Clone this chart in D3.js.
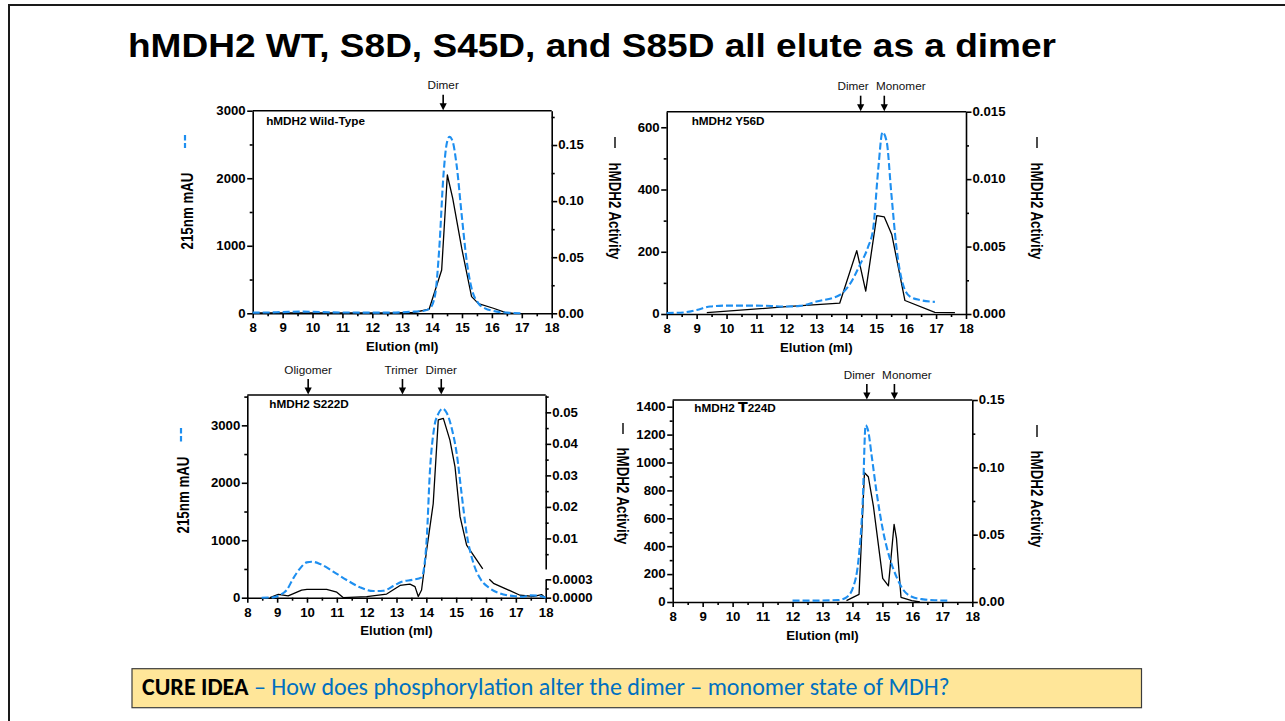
<!DOCTYPE html>
<html>
<head>
<meta charset="utf-8">
<script src="https://cdn.jsdelivr.net/npm/d3@7"></script>
<style>
	body { margin: 0; background: #fff; }
	svg { display: block; }
</style>
</head>
<body>
<script>
var slideTitle = "hMDH2 WT, S8D, S45D, and S85D all elute as a dimer";
var cureLead = "CURE IDEA";
var cureText = " \u2013 How does phosphorylation alter the dimer \u2013 monomer state of MDH?";

var elutionTicks = [8, 9, 10, 11, 12, 13, 14, 15, 16, 17, 18];
var elutionMinor = [8.5, 9.5, 10.5, 11.5, 12.5, 13.5, 14.5, 15.5, 16.5, 17.5];

// 215nm trace (mAU) and MDH activity, as [elution ml, value]
var wtUv = [[8.0, 10], [8.5, 12], [9.0, 18], [9.6, 25], [10.0, 22], [10.5, 15], [11.0, 12], [12.0, 10],
	[12.7, 10], [13.0, 15], [13.4, 25], [13.7, 35], [13.93, 74], [14.1, 271], [14.24, 962], [14.38, 2047],
	[14.49, 2516], [14.58, 2615], [14.69, 2541], [14.82, 2195], [14.99, 1455], [15.16, 765], [15.32, 370],
	[15.55, 148], [15.77, 74], [16.05, 35], [16.5, 10], [17.05, 0]];
var wtActivity = [[8.0, 0.0003], [12.7, 0.0003], [13.4, 0.0009], [13.9, 0.0036], [14.32, 0.0386],
	[14.51, 0.1233], [14.69, 0.1025], [14.99, 0.058], [15.32, 0.0149], [15.55, 0.0086], [16.05, 0.0045],
	[16.44, 0.0009], [16.72, 0]];

var y56dUv = [[8.0, 3], [8.56, 5], [9.0, 13], [9.45, 24], [10.0, 27], [11.0, 27], [12.0, 24], [12.45, 26],
	[13.0, 40], [13.78, 61], [14.1, 93], [14.45, 157], [14.73, 216], [14.9, 275], [15.07, 468], [15.21, 584],
	[15.35, 554], [15.5, 393], [15.68, 211], [15.9, 93], [16.13, 56], [16.46, 45], [16.96, 39]];
var y56dActivity = [[9.34, 0.0001], [12.0, 0.00054], [13.78, 0.0008], [14.35, 0.0047], [14.65, 0.0017],
	[15.02, 0.0073], [15.27, 0.0072], [15.52, 0.0059], [15.96, 0.001], [16.96, 0.00012], [17.63, 0.0001]];

var s222dUv = [[8.48, 0], [8.87, 6], [9.09, 46], [9.32, 133], [9.54, 337], [9.77, 511], [9.99, 615],
	[10.16, 627], [10.44, 586], [10.88, 453], [11.33, 308], [11.78, 180], [12.22, 116], [12.56, 122],
	[12.89, 203], [13.17, 279], [13.56, 313], [13.84, 354], [14.01, 1000], [14.12, 2200], [14.26, 2950],
	[14.4, 3200], [14.55, 3290], [14.68, 3220], [14.85, 2950], [15.02, 2500], [15.18, 1817], [15.35, 1120],
	[15.58, 598], [15.8, 337], [16.13, 163], [16.47, 75], [16.92, 29], [17.25, 17], [17.47, 41],
	[17.81, 29], [18.0, 0]];
var s222dActivity = [[8.76, 0], [9.04, 0.000055], [9.37, 0.00003], [9.82, 0.000125], [10.0, 0.000136],
	[10.66, 0.000136], [11.0, 0.00009], [11.22, 0], [12.0, 0.000016], [12.67, 0.00006], [13.12, 0.0002],
	[13.45, 0.00022], [13.62, 0.00018], [13.73, 0.00002], [13.84, 0.000125], [14.01, 0.0063],
	[14.23, 0.021], [14.4, 0.0476], [14.57, 0.0481], [14.79, 0.0412], [14.96, 0.0328], [15.13, 0.0169],
	[15.35, 0.0079], [15.89, 0.00031], [16.0, null], [16.11, 0.0003], [16.25, 0.000235], [17.14, 0.00004],
	[17.59, 0.00002], [17.87, 0.00005], [17.98, 0]];

var t224dUv = [[12.0, 10], [12.8, 10], [13.53, 14], [13.8, 33], [14.03, 110], [14.2, 300], [14.34, 707],
	[14.44, 1268], [14.53, 1221], [14.64, 1050], [14.81, 780], [15.03, 500], [15.25, 310], [15.47, 180],
	[15.7, 86], [15.98, 38], [16.36, 19], [16.81, 12], [17.2, 10]];
var t224dActivity = [[13.8, 0.001], [14.22, 0.0057], [14.4, 0.096], [14.53, 0.093], [14.7, 0.071],
	[15.01, 0.0176], [15.2, 0.012], [15.39, 0.0577], [15.47, 0.047], [15.62, 0.0035], [15.98, 0.001],
	[16.25, 0]];

// size standards marked above each plot (ml)
var wtMarkers = [["Dimer", 14.37]];
var y56dMarkers = [["Dimer", 14.48], ["Monomer", 15.27]];
var s222dMarkers = [["Oligomer", 10.04], ["Trimer", 13.2], ["Dimer", 14.5]];
var t224dMarkers = [["Dimer", 14.48], ["Monomer", 15.4]];

var wtUvTicks = [0, 1000, 2000, 3000], wtUvMinor = [500, 1500, 2500];
var wtActTicks = [0, 0.05, 0.10, 0.15], wtActMinor = [0.025, 0.075, 0.125, 0.175];
var y56dUvTicks = [0, 200, 400, 600], y56dUvMinor = [100, 300, 500];
var y56dActTicks = [0, 0.005, 0.010, 0.015], y56dActMinor = [0.0025, 0.0075, 0.0125];
var s222dUvTicks = [0, 1000, 2000, 3000], s222dUvMinor = [500, 1500, 2500, 3500];
var s222dActTicks = [0.01, 0.02, 0.03, 0.04, 0.05], s222dActMinor = [0.005, 0.015, 0.025, 0.035, 0.045, 0.055];
var s222dActLowTicks = [0, 0.0003], s222dActLowMinor = [0.00015];
var t224dUvTicks = [0, 200, 400, 600, 800, 1000, 1200, 1400], t224dUvMinor = [100, 300, 500, 700, 900, 1100, 1300];
var t224dActTicks = [0, 0.05, 0.10, 0.15], t224dActMinor = [0.025, 0.075, 0.125];

var FONT = "'Liberation Sans', Arial, Helvetica, sans-serif";
var BLUE = "#1e8ff0";

var panels = [
	{ name: "hMDH2 Wild-Type", left: 252.7, right: 551.7, top: 110.7, bottom: 313.3, labelDx: 13.5, labelDy: 14.5,
		uv: wtUv, act: wtActivity, uvDomain: [0, 3000], uvTicks: wtUvTicks, uvMinor: wtUvMinor,
		segments: [{ domain: [0, 0.1806], range: [313.3, 110.7], ticks: wtActTicks, minor: wtActMinor, format: ".2f" }],
		markers: wtMarkers, markerDx: [0] },
	{ name: "hMDH2 Y56D", left: 666.7, right: 966, top: 111.7, bottom: 314, labelDx: 25, labelDy: 13,
		uv: y56dUv, act: y56dActivity, uvDomain: [0, 650], uvTicks: y56dUvTicks, uvMinor: y56dUvMinor,
		segments: [{ domain: [0, 0.015], range: [314, 111.7], ticks: y56dActTicks, minor: y56dActMinor, format: ".3f" }],
		markers: y56dMarkers, markerDx: [-7.5, 16.5] },
	{ name: "hMDH2 S222D", left: 247.3, right: 545.7, top: 395, bottom: 597.7, labelDx: 22, labelDy: 12.6,
		uv: s222dUv, act: s222dActivity, uvDomain: [0, 3528], uvTicks: s222dUvTicks, uvMinor: s222dUvMinor,
		segments: [
			{ domain: [0, 0.0003], range: [597.7, 579.3], ticks: s222dActLowTicks, minor: s222dActLowMinor, format: ".4f" },
			{ domain: [0.0003, 0.0555], range: [569, 395], ticks: s222dActTicks, minor: s222dActMinor, format: ".2f" }
		],
		markers: s222dMarkers, markerDx: [0, -1.3, 0] },
	{ name: "T224D", left: 672.7, right: 972.3, top: 400, bottom: 602, labelDx: 21.6, labelDy: 12,
		uv: t224dUv, act: t224dActivity, uvDomain: [0, 1448], uvTicks: t224dUvTicks, uvMinor: t224dUvMinor,
		segments: [{ domain: [0, 0.15], range: [602, 400], ticks: t224dActTicks, minor: t224dActMinor, format: ".2f" }],
		markers: t224dMarkers, markerDx: [-7.5, 12.5] }
];

// rotated axis titles with their little line key
var sideTitles = [
	{ text: "215nm mAU", x: 187, y: 211, rot: -90, key: "uv", keyY: [135, 148] },
	{ text: "hMDH2 Activity", x: 615, y: 211, rot: 90, key: "act", keyY: [137, 148] },
	{ text: "hMDH2 Activity", x: 1037, y: 211, rot: 90, key: "act", keyY: [137, 148] },
	{ text: "215nm mAU", x: 183, y: 495, rot: -90, key: "uv", keyY: [428, 443] },
	{ text: "hMDH2 Activity", x: 623, y: 496, rot: 90, key: "act", keyY: [423, 434] },
	{ text: "hMDH2 Activity", x: 1037, y: 499, rot: 90, key: "act", keyY: [425, 437] }
];

var svg = d3.select("body").append("svg")
	.attr("width", 1285)
	.attr("height", 721);

/** widen text horizontally, the figure was pasted stretched */
function stretch(sel, k) {
	sel.each(function() {
		var w = this.getComputedTextLength();
		d3.select(this).attr("textLength", w * k).attr("lengthAdjust", "spacingAndGlyphs");
	});
}

function styleAxis(g) {
	g.select(".domain").attr("stroke", "#000").attr("stroke-width", 1.6);
	g.selectAll(".tick line").attr("stroke", "#000").attr("stroke-width", 1.6);
	g.selectAll("text")
		.attr("font-family", FONT)
		.attr("font-weight", "bold")
		.attr("font-size", 12)
		.attr("fill", "#000");
	stretch(g.selectAll("text"), 1.1);
}

/** major ticks with labels plus a sibling group of short minor ticks */
function drawAxis(parent, transform, major, minor) {
	var gm = parent.append("g").attr("transform", transform);
	gm.call(minor);
	gm.select(".domain").remove();
	gm.selectAll(".tick line").attr("stroke", "#000").attr("stroke-width", 1.6);
	var g = parent.append("g").attr("transform", transform);
	g.call(major);
	styleAxis(g);
}

/** piecewise scale for broken axes */
function segmentScale(segments) {
	var scales = segments.map(function(s) {
		return d3.scaleLinear().domain(s.domain).range(s.range);
	});
	return function(v) {
		for (var i = 0; i < segments.length; i++) {
			if (v <= segments[i].domain[1] || i == segments.length - 1) return scales[i](v);
		}
	};
}

function drawPanel(p) {
	var g = svg.append("g");
	var x = d3.scaleLinear().domain([8, 18]).range([p.left, p.right]);
	var yUv = d3.scaleLinear().domain(p.uvDomain).range([p.bottom, p.top]);
	var yAct = segmentScale(p.segments);

	drawAxis(g, "translate(0," + p.bottom + ")",
		d3.axisBottom(x).tickValues(elutionTicks).tickSize(5).tickSizeOuter(0).tickPadding(5.5).tickFormat(d3.format("d")),
		d3.axisBottom(x).tickValues(elutionMinor).tickSize(3).tickFormat(""));

	drawAxis(g, "translate(" + p.left + ",0)",
		d3.axisLeft(yUv).tickValues(p.uvTicks).tickSize(5.5).tickSizeOuter(0).tickPadding(1.5).tickFormat(d3.format("d")),
		d3.axisLeft(yUv).tickValues(p.uvMinor).tickSize(3).tickFormat(""));

	// right axis, one piece per segment
	p.segments.forEach(function(s) {
		var sc = d3.scaleLinear().domain(s.domain).range(s.range);
		drawAxis(g, "translate(" + p.right + ",0)",
			d3.axisRight(sc).tickValues(s.ticks).tickSize(5.5).tickSizeOuter(0).tickPadding(1).tickFormat(d3.format(s.format)),
			d3.axisRight(sc).tickValues(s.minor).tickSize(3).tickFormat(""));
	});

	// top frame
	g.append("line")
		.attr("x1", p.left).attr("x2", p.right)
		.attr("y1", p.top).attr("y2", p.top)
		.attr("stroke", "#000").attr("stroke-width", 1.6);

	// traces
	var uvLine = d3.line()
		.x(function(d) { return x(d[0]); })
		.y(function(d) { return yUv(d[1]); })
		.curve(d3.curveMonotoneX);
	var actLine = d3.line()
		.defined(function(d) { return d[1] !== null; })
		.x(function(d) { return x(d[0]); })
		.y(function(d) { return yAct(d[1]); });

	g.append("path")
		.attr("d", actLine(p.act))
		.attr("fill", "none")
		.attr("stroke", "#000")
		.attr("stroke-width", 1.3)
		.attr("stroke-linejoin", "round");

	g.append("path")
		.attr("d", uvLine(p.uv))
		.attr("fill", "none")
		.attr("stroke", BLUE)
		.attr("stroke-width", 2.1)
		.attr("stroke-dasharray", "7,3");

	// panel label
	var lab = g.append("text")
		.attr("x", p.left + p.labelDx)
		.attr("y", p.top + p.labelDy)
		.attr("font-family", FONT)
		.attr("font-weight", "bold")
		.attr("font-size", 11.5);
	if (p.name == "T224D") {
		lab.append("tspan").text("hMDH2 ");
		lab.append("tspan").text("T").attr("font-family", "'DejaVu Sans'").attr("font-size", 14);
		lab.append("tspan").text("224D");
	} else {
		lab.text(p.name);
	}
	stretch(lab, 1.02);

	// x title
	g.append("text")
		.text("Elution (ml)")
		.attr("x", (p.left + p.right) / 2)
		.attr("y", p.bottom + 37.5)
		.attr("text-anchor", "middle")
		.attr("font-family", FONT)
		.attr("font-weight", "bold")
		.attr("font-size", 13.2);

	// size standard arrows
	p.markers.forEach(function(m, i) {
		var mx = x(m[1]);
		g.append("line")
			.attr("x1", mx).attr("x2", mx)
			.attr("y1", p.top - 16).attr("y2", p.top - 5)
			.attr("stroke", "#000").attr("stroke-width", 1.6);
		g.append("path")
			.attr("d", "M" + (mx - 3.6) + "," + (p.top - 7.5) + "L" + (mx + 3.6) + "," + (p.top - 7.5) + "L" + mx + "," + (p.top - 0.5) + "Z")
			.attr("fill", "#000");
		var t = g.append("text")
			.text(m[0])
			.attr("x", mx + p.markerDx[i])
			.attr("y", p.top - 21.5)
			.attr("text-anchor", "middle")
			.attr("font-family", FONT)
			.attr("font-size", 11.5)
			.attr("fill", "#111");
		stretch(t, 1.02);
	});
}

// slide frame
svg.append("path")
	.attr("d", "M9,721L9,5L1285,5")
	.attr("fill", "none")
	.attr("stroke", "#1a1a1a")
	.attr("stroke-width", 2);

svg.append("text")
	.text(slideTitle)
	.attr("x", 128)
	.attr("y", 57)
	.attr("font-family", FONT)
	.attr("font-weight", "bold")
	.attr("font-size", 33)
	.attr("textLength", 928)
	.attr("lengthAdjust", "spacingAndGlyphs");

panels.forEach(drawPanel);

sideTitles.forEach(function(s) {
	if (s.key == "uv") {
		svg.append("line")
			.attr("x1", s.x - 2).attr("x2", s.x - 2)
			.attr("y1", s.keyY[0]).attr("y2", s.keyY[1])
			.attr("stroke", BLUE).attr("stroke-width", 2.2)
			.attr("stroke-dasharray", "5.5,2.5");
	} else {
		svg.append("line")
			.attr("x1", s.x).attr("x2", s.x)
			.attr("y1", s.keyY[0]).attr("y2", s.keyY[1])
			.attr("stroke", "#000").attr("stroke-width", 1.4);
	}
	svg.append("text")
		.text(s.text)
		.attr("transform", "translate(" + s.x + "," + s.y + ") rotate(" + s.rot + ") scale(1,1.25)")
		.attr("text-anchor", "middle")
		.attr("dy", "0.36em")
		.attr("font-family", FONT)
		.attr("font-weight", "bold")
		.attr("font-size", 13.3);
});

// CURE IDEA box
svg.append("rect")
	.attr("x", 132)
	.attr("y", 668.7)
	.attr("width", 1009.5)
	.attr("height", 39)
	.attr("fill", "#FFE699")
	.attr("stroke", "#3c3c3c")
	.attr("stroke-width", 1.2);

var cure = svg.append("text")
	.attr("x", 142)
	.attr("y", 694.5)
	.attr("font-family", "Carlito, Lato, 'Open Sans', sans-serif")
	.attr("font-size", 18);
cure.append("tspan").text(cureLead).attr("font-weight", "bold").attr("fill", "#000");
cure.append("tspan").text(cureText).attr("fill", "#0070C0");
var cw = cure.node().getComputedTextLength();
cure.attr("font-size", 18 * 808 / cw);
</script>
</body>
</html>
